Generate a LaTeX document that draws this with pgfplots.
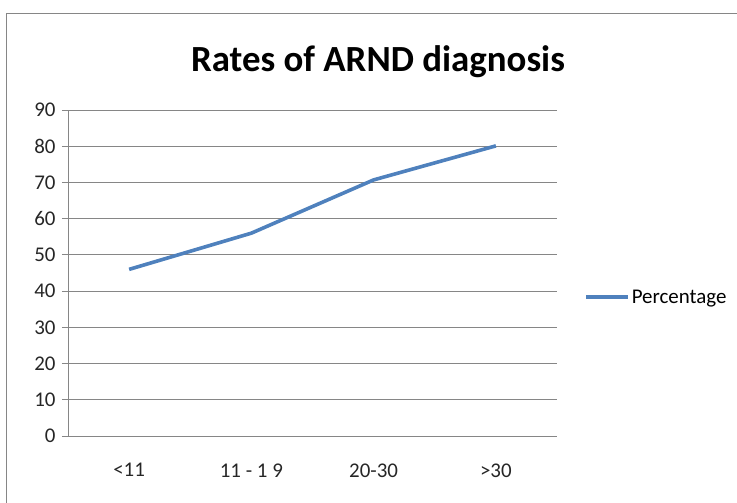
\documentclass[border=0pt]{standalone}
\usepackage{pgfplots}
\pgfplotsset{compat=1.18}
\usepackage{fontspec}
\setmainfont{Carlito}
\definecolor{xlblue}{HTML}{4F81BD}
\definecolor{gridgray}{HTML}{868686}
\begin{document}
\begin{tikzpicture}[x=1bp,y=1bp]
\useasboundingbox (0,0) rectangle (737,503);
\coordinate (A) at (68,67);
\draw[gridgray, line width=0.8bp] (6,0) -- (6,490) -- (737,490);
\node[font=\fontsize{37}{40}\selectfont\bfseries, anchor=base] at (378,431) {Rates of ARND diagnosis};
\begin{axis}[
  at={(A)}, anchor=south west,
  scale only axis, width=489bp, height=326bp,
  xmin=-0.5, xmax=3.5, ymin=0, ymax=90,
  ytick={0,10,...,90},
  xtick={0,1,2,3},
  xticklabels={{<11},{11 - 1 9},{20-30},{>30}},
  minor xtick={-0.5,0.5,1.5,2.5,3.5},
  ymajorgrids, major grid style={gridgray, line width=0.8bp},
  axis x line*=bottom, axis y line*=left,
  axis line style={gridgray, line width=0.8bp, -},
  tick style={gridgray, line width=0.8bp},
  tick align=outside,
  xtick style={draw=none},
  minor x tick style={gridgray, line width=0.8bp},
  minor tick length=6bp,
  major tick length=6bp,
  tick label style={font=\fontsize{21}{23}\selectfont, text=black!85},
  xticklabel style={yshift=-18bp},
  yticklabel style={xshift=-3bp},
  /pgf/number format/assume math mode=true,
  legend style={draw=none, fill=none, at={(axis description cs:1,0.426)}, anchor=west, xshift=26bp, font=\fontsize{21}{23}\selectfont, inner sep=1bp},
  legend cell align=left,
  legend image code/.code={\draw[#1] (0bp,0bp) -- (42bp,0bp);},
]
\addplot[xlblue, line width=3.6bp] coordinates {(0,46) (1,56) (2,70.7) (3,80.1)};
\addlegendentry{Percentage}
\end{axis}
\end{tikzpicture}
\end{document}
